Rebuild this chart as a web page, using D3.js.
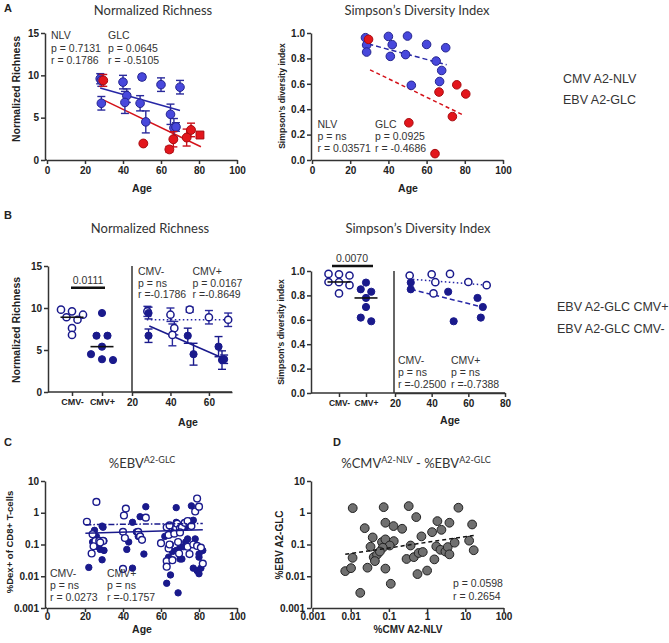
<!DOCTYPE html>
<html>
<head>
<meta charset="utf-8">
<script src="https://cdn.jsdelivr.net/npm/d3@7"></script>
<style>
  body { margin: 0; background: #fff; }
  text { font-family: "Liberation Sans", Arial, sans-serif; }
</style>
</head>
<body>
<div id="chart"></div>
<script>
// ---- data ----
// donors carrying CMV A2-NLV responses, split by CMV serostatus (panel B)
var negAge = [28, 40, 50, 60, 70, 42, 41];
var negRich = [9.6, 9.2, 9.8, 8.9, 8.6, 7.6, 6.8];
var negRichErr = [0.6, 0.8, 0.3, 0.8, 0.8, 0.8, 1.3];
var negSimpson = [0.963, 0.973, 0.976, 0.91, 0.884, 0.908, 0.816];
var posAge = [28.6, 28.6, 49, 52, 65, 66.8, 67.9];
var posRich = [9.4, 6.7, 6.7, 4.5, 5.4, 3.8, 3.9];
var posRichErr = [0.7, 0.8, 0.9, 1.3, 1.2, 1.1, 0.5];
var posSimpson = [0.905, 0.85, 0.83, 0.588, 0.779, 0.618, 0.705];

// EBV A2-GLC (red in panel A)
var glcAge = [29.6, 50.7, 64.4, 66.5, 73.5, 75.8, 80.5];
var glcRich = [9.4, 1.95, 1.25, 2.45, 2.65, 3.55, 2.95];
var glcRichErr = [0.7, 0, 0.35, 0.9, 1.0, 0.8, 0.3];
var glcSimpson = [0.95, 0.293, 0.05, 0.535, 0.342, 0.592, 0.52];
var glcSymbol = ["circle", "circle", "circle", "circle", "circle", "circle", "square"];

// fitted lines (end points)
var fitRichNlv = [[28, 8.5], [70, 5.85]];
var fitRichGlc = [[29.6, 7.1], [81, 1.57]];
var fitSimpNlv = [[29.5, 0.913], [70.5, 0.75]];
var fitSimpGlc = [[30.4, 0.71], [79.8, 0.35]];
var fitRichNeg = [[27.7, 8.6], [71.6, 8.6]];
var fitRichPos = [[29, 7.86], [66.8, 4.08]];
var fitSimpNeg = [[27.6, 0.934], [69.5, 0.885]];
var fitSimpPos = [[28.7, 0.85], [67, 0.707]];

// panel C: %EBV A2-GLC dextramer+ of CD8+ by age
var cNegAge = [21, 26, 24, 25.5, 27.5, 29.5, 24.5, 23.5, 28,
  41.5, 40.5, 40, 41, 48, 49, 50, 52, 40,
  60, 63, 64, 64.5, 63, 63, 64, 64.5, 66, 68, 68.5, 70, 69.5, 69, 71, 72.5, 74, 75, 76, 74, 77, 78, 79, 80, 79, 81, 82, 67, 70];
var cNegVal = [0.52, 2.2, 0.21, 0.13, 0.13, 0.13, 0.088, 0.052, 0.115,
  1.35, 0.82, 0.25, 0.16, 0.25, 0.18, 0.14, 0.7, 0.017,
  0.11, 0.35, 0.2, 0.4, 0.03, 0.02, 0.075, 0.1, 0.032, 0.33, 0.45, 0.32, 0.052, 0.12, 0.35, 0.48, 0.55, 0.05, 0.38, 0.085, 0.1, 1.1, 2.8, 1.55, 0.09, 0.08, 0.025, 0.22, 0.24];
var cPosAge = [22, 25, 26, 29, 29.5, 30, 27, 28, 30, 29, 24,
  43, 42, 45, 47, 49, 52, 51, 45, 48,
  62, 63, 64, 65, 65, 66, 67, 68, 68, 69, 68, 70, 70, 71, 73, 73, 74, 75, 76, 77, 77, 78, 79, 80, 80, 80, 81, 82, 72];
var cPosVal = [0.019, 0.28, 0.18, 0.38, 0.35, 0.13, 0.085, 0.07, 0.065, 0.033, 0.12,
  0.12, 0.07, 0.5, 0.25, 0.75, 1.55, 0.05, 0.018, 0.18,
  0.18, 0.006, 0.04, 0.011, 0.1, 0.06, 0.3, 1.45, 0.065, 0.003, 0.5, 0.08, 0.035, 0.035, 0.35, 0.12, 0.15, 0.55, 1.65, 0.58, 0.018, 0.15, 0.015, 0.04, 0.012, 0.05, 0.018, 0.065, 0.085];
var fitCNeg = [[20.2, 0.42], [82, 0.46]];
var fitCPos = [[20.2, 0.228], [82, 0.29]];

// panel D: %CMV A2-NLV vs %EBV A2-GLC
var dCmv = [0.0113, 0.073, 0.33, 6.6, 0.52, 0.0233, 0.081, 0.132, 0.222, 0.0377, 0.066, 0.081, 0.134, 0.105, 0.069,
  0.033, 0.0112, 0.04, 0.049, 0.043, 0.058, 0.0072, 0.0102, 0.0275, 0.081, 0.0178, 0.112, 0.37, 0.29, 0.45,
  0.6, 0.77, 0.56, 1.0, 1.55, 1.74, 0.71, 1.35, 2.37, 1.86, 3.84, 2.24, 3.02, 3.47, 3.84, 5.25, 12.6, 15.1, 16.6];
var dEbv = [1.4, 1.5, 1.62, 1.44, 0.73, 0.327, 0.484, 0.38, 0.313, 0.167, 0.119, 0.145, 0.128, 0.093, 0.079,
  0.085, 0.038, 0.04, 0.048, 0.03, 0.06, 0.0145, 0.018, 0.0186, 0.0174, 0.003, 0.0058, 0.093, 0.035, 0.04,
  0.054, 0.058, 0.0117, 0.0151, 0.034, 0.087, 0.18, 0.245, 0.29, 0.545, 0.484, 0.068, 0.06, 0.083, 0.049, 0.114, 0.132, 0.427, 0.066];
var fitD = [[0.0072, 0.049], [16.6, 0.193]];

var groups = ["CMV-", "CMV+"];
var logTicks = [0.001, 0.01, 0.1, 1, 10];
var logLabels = ["0.001", "0.01", "0.1", "1", "10"];

// ---- drawing ----
var W = 669, H = 643;
var ink = "#333";
var blue = "#4848dc", blueEdge = "#25258f", red = "#e3161c", redEdge = "#a80c10";
var navy = "#1a1a8c";

var svg = d3.select("#chart").append("svg")
    .attr("width", W).attr("height", H);

function txt(x, y, s, size, opts) {
    opts = opts || {};
    var t = svg.append("text")
        .attr("x", x).attr("y", y)
        .attr("text-anchor", opts.anchor || "start")
        .attr("fill", opts.fill || ink)
        .style("font-size", size + "px")
        .style("font-weight", opts.bold ? "bold" : "normal")
        .text(s);
    if (opts.family) t.style("font-family", opts.family);
    if (opts.rotate) t.attr("transform", "rotate(-90," + x + "," + y + ")");
    return t;
}

function styleAxis(ax, size) {
    ax.select(".domain").attr("stroke", ink).attr("stroke-width", 1.5);
    ax.selectAll(".tick line").attr("stroke", ink).attr("stroke-width", 1.5);
    ax.selectAll(".tick text").attr("fill", "#222")
        .style("font-size", (size || 10) + "px").style("font-weight", "bold");
}

function leftAxis(scale, x0, ticks, labels) {
    var ax = svg.append("g").attr("transform", "translate(" + x0 + ",0)")
        .call(d3.axisLeft(scale).tickValues(ticks)
            .tickFormat(function(d, i) { return labels[i]; })
            .tickSize(4).tickSizeOuter(0).tickPadding(2));
    styleAxis(ax);
    return ax;
}

function bottomAxis(scale, y0, ticks, labels, pad) {
    var ax = svg.append("g").attr("transform", "translate(0," + y0 + ")")
        .call(d3.axisBottom(scale).tickValues(ticks)
            .tickFormat(function(d, i) { return labels[i]; })
            .tickSize(4).tickSizeOuter(0).tickPadding(pad == null ? 3 : pad));
    styleAxis(ax);
    return ax;
}

function hline(x1, x2, y, w, col) {
    svg.append("line").attr("x1", x1).attr("x2", x2).attr("y1", y).attr("y2", y)
        .attr("stroke", col || ink).attr("stroke-width", w || 1.5);
}
function vline(x, y1, y2, w, col) {
    svg.append("line").attr("x1", x).attr("x2", x).attr("y1", y1).attr("y2", y2)
        .attr("stroke", col || ink).attr("stroke-width", w || 1.5);
}

function fitLine(pts, x, y, col, dash, w) {
    svg.append("path")
        .attr("d", d3.line().x(function(d) { return x(d[0]); }).y(function(d) { return y(d[1]); })(pts))
        .attr("fill", "none").attr("stroke", col).attr("stroke-width", w || 1.5)
        .attr("stroke-dasharray", dash || null);
}

function errBars(ages, vals, errs, x, y, col) {
    ages.forEach(function(a, i) {
        if (!errs[i]) return;
        var cx = x(a);
        vline(cx, y(vals[i] - errs[i]), y(vals[i] + errs[i]), 1.4, col);
        hline(cx - 4, cx + 4, y(vals[i] - errs[i]), 1.4, col);
        hline(cx - 4, cx + 4, y(vals[i] + errs[i]), 1.4, col);
    });
}

function dots(xs, ys, x, y, r, fill, stroke, sw) {
    svg.append("g").selectAll("circle")
        .data(xs.map(function(a, i) { return [a, ys[i]]; }))
        .enter().append("circle")
        .attr("cx", function(d) { return x(d[0]); })
        .attr("cy", function(d) { return y(d[1]); })
        .attr("r", r)
        .attr("fill", fill).attr("stroke", stroke).attr("stroke-width", sw || 1);
}

// rows of points closer than `near` px are spread symmetrically
function swarm(vals, y, near, step) {
    var idx = vals.map(function(v, i) { return i; })
        .sort(function(a, b) { return vals[b] - vals[a]; });
    var off = new Array(vals.length), row = [];
    function flush() {
        row.forEach(function(k, j) { off[k] = (j - (row.length - 1) / 2) * step; });
        row = [];
    }
    idx.forEach(function(i) {
        if (row.length && Math.abs(y(vals[i]) - y(vals[row[0]])) > near) flush();
        row.push(i);
    });
    flush();
    return off;
}

function groupDots(vals, cx, y, open, near, step, r) {
    var off = swarm(vals, y, near, step);
    svg.append("g").selectAll("circle").data(vals).enter().append("circle")
        .attr("cx", function(d, i) { return cx + off[i]; })
        .attr("cy", function(d) { return y(d); })
        .attr("r", r)
        .attr("fill", open ? "#fff" : navy)
        .attr("stroke", navy).attr("stroke-width", open ? 1.5 : 1);
    var m = d3.median(vals);
    hline(cx - 11.5, cx + 11.5, y(m), 1.6, "#111");
}

// panel letters
txt(4, 12, "A", 11, { bold: true, fill: "#222" });
txt(4, 219, "B", 11, { bold: true, fill: "#222" });
txt(4, 446, "C", 11, { bold: true, fill: "#222" });
txt(333, 446, "D", 11, { bold: true, fill: "#222" });

var titleFont = "Lato, 'Open Sans', sans-serif";

// ===== A left: normalized richness =====
(function() {
    var x = d3.scaleLinear().domain([0, 100]).range([47, 237]);
    var y = d3.scaleLinear().domain([0, 15]).range([160, 33]);
    leftAxis(y, 45, [0, 5, 10, 15], ["0", "5", "10", "15"]);
    bottomAxis(x, 160, [0, 20, 40, 60, 80, 100], ["0", "20", "40", "60", "80", "100"]);
    hline(45, 47, 160);
    txt(153, 15, "Normalized Richness", 13, { anchor: "middle", family: titleFont });
    txt(20, 89, "Normalized Richness", 10.5, { anchor: "middle", bold: true, rotate: true, fill: "#222" });
    txt(142, 192, "Age", 10.5, { anchor: "middle", bold: true, fill: "#222" });

    var nlvAge = negAge.concat(posAge), nlvRich = negRich.concat(posRich), nlvErr = negRichErr.concat(posRichErr);
    fitLine(fitRichNlv, x, y, "#2626a6");
    fitLine(fitRichGlc, x, y, "#d4121a");
    errBars(nlvAge, nlvRich, nlvErr, x, y, "#2a2a9c");
    dots(nlvAge, nlvRich, x, y, 4.3, blue, blueEdge);
    errBars(glcAge, glcRich, glcRichErr, x, y, "#c8101a");
    var sym = d3.symbol().size(62);
    svg.append("g").selectAll("path").data(glcAge).enter().append("path")
        .attr("transform", function(d, i) { return "translate(" + x(d) + "," + y(glcRich[i]) + ")"; })
        .attr("d", function(d, i) { return sym.type(glcSymbol[i] === "square" ? d3.symbolSquare : d3.symbolCircle)(); })
        .attr("fill", red).attr("stroke", redEdge).attr("stroke-width", 1);

    txt(51, 39, "NLV", 10.5);
    txt(51, 51.5, "p = 0.7131", 10.5);
    txt(51, 63.5, "r = 0.1786", 10.5);
    txt(108, 39, "GLC", 10.5);
    txt(108, 51.5, "p = 0.0645", 10.5);
    txt(108, 63.5, "r = -0.5105", 10.5);
})();

// ===== A right: Simpson's diversity =====
(function() {
    var x = d3.scaleLinear().domain([0, 100]).range([312, 503]);
    var y = d3.scaleLinear().domain([0, 1]).range([160, 33]);
    var t = [0, 0.2, 0.4, 0.6, 0.8, 1];
    leftAxis(y, 311, t, t.map(d3.format(".1f")));
    bottomAxis(x, 160, [0, 20, 40, 60, 80, 100], ["0", "20", "40", "60", "80", "100"]);
    txt(417, 15, "Simpson\u2019s Diversity Index", 13, { anchor: "middle", family: titleFont });
    txt(285, 96, "Simpson\u2019s diversity index", 8.6, { anchor: "middle", bold: true, rotate: true, fill: "#222" });
    txt(408, 192, "Age", 10.5, { anchor: "middle", bold: true, fill: "#222" });

    fitLine(fitSimpNlv, x, y, "#2626a6", "5,3");
    fitLine(fitSimpGlc, x, y, "#d4121a", "4,3");
    dots(negAge.concat(posAge), negSimpson.concat(posSimpson), x, y, 4.3, blue, blueEdge);
    dots(glcAge, glcSimpson, x, y, 4.3, red, redEdge);

    txt(317.5, 128, "NLV", 10.5);
    txt(317.5, 140, "p = ns", 10.5);
    txt(317.5, 152, "r = 0.03571", 10.5);
    txt(375, 128, "GLC", 10.5);
    txt(375, 140, "p = 0.0925", 10.5);
    txt(375, 152, "r = -0.4686", 10.5);
})();

txt(563, 82.5, "CMV A2-NLV", 12.5);
txt(563, 103.5, "EBV A2-GLC", 12.5);

// ===== B left: richness by CMV status and age =====
(function() {
    var y = d3.scaleLinear().domain([0, 15]).range([392, 266]);
    var g = d3.scalePoint().domain(groups).range([72, 102]);
    var x = d3.scaleLinear().domain([20, 72]).range([132, 232]);
    leftAxis(y, 48, [0, 5, 10, 15], ["0", "5", "10", "15"]);
    hline(48, 232, 392);
    var a1 = bottomAxis(g, 392, groups, groups);
    a1.select(".domain").remove();
    a1.selectAll(".tick text").style("font-size", "9px");
    bottomAxis(x, 392, [20, 40, 60], ["20", "40", "60"]);
    vline(132, y(0), y(15), 1.5);
    txt(150, 233, "Normalized Richness", 13, { anchor: "middle", family: titleFont });
    txt(20, 330, "Normalized Richness", 10.5, { anchor: "middle", bold: true, rotate: true, fill: "#222" });
    txt(188, 426, "Age", 10.5, { anchor: "middle", bold: true, fill: "#222" });

    groupDots(negRich, g("CMV-"), y, true, 6.5, 11, 3.6);
    groupDots(posRich, g("CMV+"), y, false, 6.5, 11, 3.6);
    hline(71, 105, y(12.4), 2.5, "#111");
    txt(88, y(12.4) - 4, "0.0111", 10.5, { anchor: "middle" });

    fitLine(fitRichNeg, x, y, "#2626a6", "1.5,2.5");
    fitLine(fitRichPos, x, y, navy);
    errBars(negAge, negRich, negRichErr, x, y, "#2a2a9c");
    errBars(posAge, posRich, posRichErr, x, y, navy);
    dots(negAge, negRich, x, y, 3.6, "#fff", navy, 1.5);
    dots(posAge, posRich, x, y, 3.6, navy, navy);

    txt(138, 275, "CMV-", 10.5);
    txt(138, 286.5, "p = ns", 10.5);
    txt(138, 298, "r =-0.1786", 10.5);
    txt(192.5, 275, "CMV+", 10.5);
    txt(192.5, 286.5, "p = 0.0167", 10.5);
    txt(192.5, 298, "r =-0.8649", 10.5);
})();

// ===== B right: Simpson by CMV status and age =====
(function() {
    var y = d3.scaleLinear().domain([0, 1]).range([393, 271]);
    var g = d3.scalePoint().domain(groups).range([339, 366]);
    var x = d3.scaleLinear().domain([20, 80]).range([395, 505]);
    var t = [0, 0.2, 0.4, 0.6, 0.8, 1];
    leftAxis(y, 311, t, t.map(d3.format(".1f")));
    hline(311, 505, 393);
    var a1 = bottomAxis(g, 393, groups, groups);
    a1.select(".domain").remove();
    a1.selectAll(".tick text").style("font-size", "8.5px");
    bottomAxis(x, 393, [20, 40, 60, 80], ["20", "40", "60", "80"]);
    vline(394, y(0), y(1), 1.5);
    txt(418, 233, "Simpson\u2019s Diversity Index", 13, { anchor: "middle", family: titleFont });
    txt(284, 332, "Simpson\u2019s diversity index", 8.6, { anchor: "middle", bold: true, rotate: true, fill: "#222" });
    txt(450, 424, "Age", 10.5, { anchor: "middle", bold: true, fill: "#222" });

    groupDots(negSimpson, g("CMV-"), y, true, 6, 10.5, 3.6);
    groupDots(posSimpson, g("CMV+"), y, false, 6, 10.5, 3.6);
    hline(332, 373, y(1.04), 2.5, "#111");
    txt(352, y(1.04) - 4, "0.0070", 10.5, { anchor: "middle" });

    fitLine(fitSimpNeg, x, y, "#2626a6", "1.5,2.5");
    fitLine(fitSimpPos, x, y, "#2626a6", "5,3");
    dots(negAge, negSimpson, x, y, 3.6, "#fff", navy, 1.5);
    dots(posAge, posSimpson, x, y, 3.6, navy, navy);

    txt(398, 364, "CMV-", 10.5);
    txt(398, 376, "p = ns", 10.5);
    txt(398, 388, "r =-0.2500", 10.5);
    txt(451, 364, "CMV+", 10.5);
    txt(451, 376, "p = ns", 10.5);
    txt(451, 388, "r =-0.7388", 10.5);
})();

txt(557, 311, "EBV A2-GLC CMV+", 12.5);
txt(557, 333, "EBV A2-GLC CMV-", 12.5);

// ===== C: %EBV A2-GLC by age =====
(function() {
    var x = d3.scaleLinear().domain([0, 100]).range([47, 237]);
    var y = d3.scaleLog().domain([0.001, 10]).range([608, 481]);
    leftAxis(y, 45, logTicks, logLabels);
    bottomAxis(x, 608, [0, 20, 40, 60, 80, 100], ["0", "20", "40", "60", "80", "100"], 1);
    hline(45, 47, 608);
    var tt = txt(142, 468, "%EBV", 13, { anchor: "middle", family: titleFont });
    tt.append("tspan").attr("dy", -5).style("font-size", "9px").text("A2-GLC");
    txt(13, 542, "%Dex+ of CD8+  T-cells", 9.5, { anchor: "middle", bold: true, rotate: true, fill: "#222" });
    txt(142, 633, "Age", 10.5, { anchor: "middle", bold: true, fill: "#222" });

    dots(cPosAge, cPosVal, x, y, 3.2, navy, navy);
    dots(cNegAge, cNegVal, x, y, 3.4, "#fff", navy, 1.4);
    fitLine(fitCNeg, x, y, navy, "6,2,1.5,2");
    fitLine(fitCPos, x, y, navy);

    txt(50, 577, "CMV-", 10.5);
    txt(50, 589, "p = ns", 10.5);
    txt(50, 601, "r = 0.0273", 10.5);
    txt(107, 577, "CMV+", 10.5);
    txt(107, 589, "p = ns", 10.5);
    txt(107, 601, "r =-0.1757", 10.5);
})();

// ===== D: %CMV A2-NLV vs %EBV A2-GLC =====
(function() {
    var x = d3.scaleLog().domain([0.001, 100]).range([312.5, 503.5]);
    var y = d3.scaleLog().domain([0.001, 10]).range([608, 481]);
    leftAxis(y, 311, logTicks, logLabels);
    bottomAxis(x, 608, [0.001, 0.01, 0.1, 1, 10, 100], ["0.001", "0.01", "0.1", "1", "10", "100"], 1);
    var tt = txt(416, 468, "%CMV", 13, { anchor: "middle", family: titleFont });
    tt.append("tspan").attr("dy", -5).style("font-size", "9px").text("A2-NLV");
    tt.append("tspan").attr("dy", 5).text(" - %EBV");
    tt.append("tspan").attr("dy", -5).style("font-size", "9px").text("A2-GLC");
    txt(283, 545, "%EBV A2-GLC", 10, { anchor: "middle", bold: true, rotate: true, fill: "#222" });
    txt(408, 633, "%CMV A2-NLV", 10, { anchor: "middle", bold: true, fill: "#222" });

    dots(dCmv, dEbv, x, y, 4.4, "#707070", "#222", 1);
    fitLine(fitD, x, y, "#111", "4,3");

    txt(453, 587, "p = 0.0598", 10.5);
    txt(453, 600, "r = 0.2654", 10.5);
})();
</script>
</body>
</html>
